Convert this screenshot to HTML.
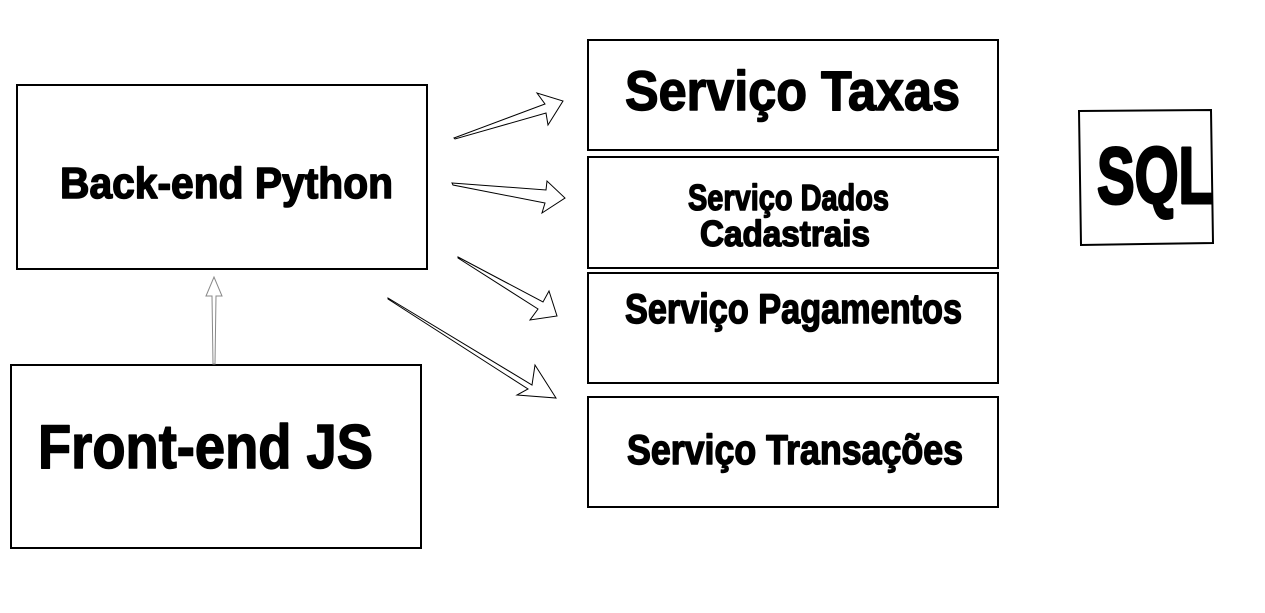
<!DOCTYPE html>
<html><head><meta charset="utf-8"><style>html,body{margin:0;padding:0;background:#fff}svg{display:block}</style></head>
<body>
<svg width="1265" height="613" viewBox="0 0 1265 613" xmlns="http://www.w3.org/2000/svg" font-family="Liberation Sans, sans-serif" font-weight="bold">
<rect width="1265" height="613" fill="#fff"/>
<g fill="none" stroke="#000" stroke-width="2">
<rect x="17" y="85" width="410" height="184"/>
<rect x="11" y="365" width="410" height="183"/>
<rect x="588" y="40" width="410" height="110"/>
<rect x="588" y="157" width="410" height="111"/>
<rect x="588" y="273" width="410" height="110"/>
<rect x="588" y="397" width="410" height="110"/>
<polygon points="1079,111 1211,110 1213,243 1081,245"/>
</g>
<g fill="#fff" stroke="#000" stroke-width="1">
<polygon points="454,138 545,104 537,93 563,101 548,125 546,113 455,139"/>
<polygon points="452,183 546,190 547,181 565,198 542,213 545,203 453,185"/>
<polygon points="458,257 543,302 549,291 557,316 530,320 538,309 458,258"/>
<polygon points="388,298 532,385 535,365 556,398 517,395 528,389 388,299"/>
</g>
<polygon points="213,364 212,296 206,296 214,277 222,296 216,296 215,364" fill="#fff" stroke="#888" stroke-width="1"/>
<g fill="#000" stroke="#000" stroke-width="1.5" stroke-linejoin="round">
<text x="60" y="198" font-size="44" textLength="333" lengthAdjust="spacingAndGlyphs">Back-end Python</text>
<text x="38" y="468" font-size="62" textLength="335" lengthAdjust="spacingAndGlyphs">Front-end JS</text>
<text x="625" y="110" font-size="56" textLength="335" lengthAdjust="spacingAndGlyphs">Serviço Taxas</text>
<text x="688" y="210" font-size="36" textLength="201" lengthAdjust="spacingAndGlyphs">Serviço Dados</text>
<text x="700" y="246" font-size="36" textLength="170" lengthAdjust="spacingAndGlyphs">Cadastrais</text>
<text x="625" y="323" font-size="42" textLength="337" lengthAdjust="spacingAndGlyphs">Serviço Pagamentos</text>
<text x="627" y="464" font-size="42" textLength="336" lengthAdjust="spacingAndGlyphs">Serviço Transações</text>
<text x="1097" y="203" font-size="80" textLength="116" lengthAdjust="spacingAndGlyphs" stroke-width="3">SQL</text>
</g>
</svg>
</body></html>
